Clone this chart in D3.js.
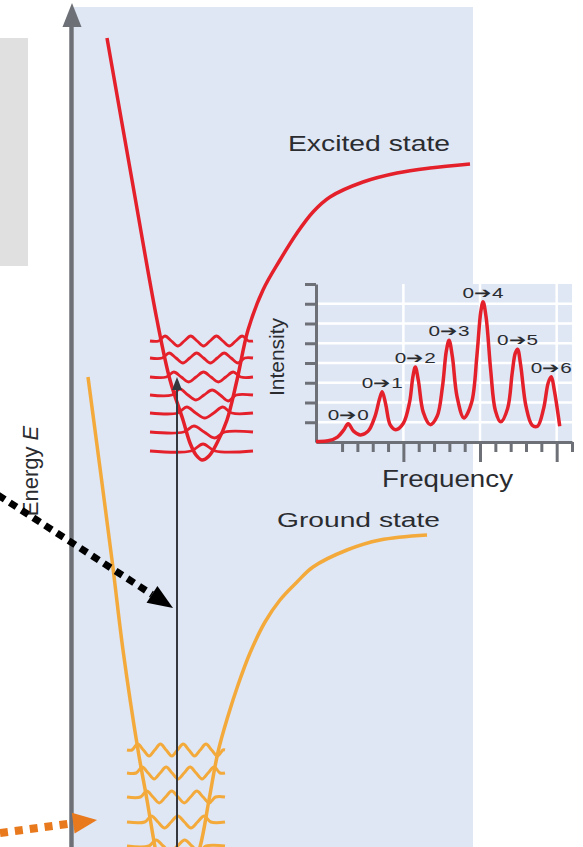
<!DOCTYPE html>
<html>
<head>
<meta charset="utf-8">
<script src="https://cdn.jsdelivr.net/npm/d3@7"></script>
<style>
  html, body { margin: 0; padding: 0; background: #fff; }
  svg { display: block; font-family: "Liberation Sans", Arial, sans-serif; }
</style>
</head>
<body>
<div id="chart"></div>
<script>
// potential energy curves: [internuclear distance r, energy E]
const excitedCurve = [
  [35, 809], [60, 667], [85, 527], [98, 467], [111, 427], [118, 404], [124, 392],
  [130, 387], [137, 391], [145, 404], [155, 427], [165, 467], [176, 517], [191, 557],
  [208, 587], [225, 614], [241, 635], [258, 650], [291, 665], [325, 674], [358, 679], [398, 683]
];
const groundCurve = [
  [16, 470], [40, 287], [51, 197], [66, 97], [75, 47], [83, 0], [90, -33], [103, -58],
  [116, -33], [128, 0], [137, 47], [146, 95], [156, 131], [166, 162], [178, 194],
  [193, 225], [208, 247], [225, 265], [241, 280], [275, 297], [308, 307], [355, 312]
];

// vibrational levels (energy) and lobe amplitudes of the drawn wavefunctions
const excitedLevels = [396, 415, 434, 452, 470, 489, 506];
const excitedLobes = [
  [7],
  [6, -6],
  [6, -5, 6],
  [6, -5, 5, -6],
  [5, -5, 5, -5, 5],
  [5, -5, 5, -5, 5, -5],
  [5, -5, 5, -5, 5, -5, 5]
];
const groundLevels = [1, 25, 50, 74, 97];
const groundLobes = [
  [6, -6, 6, -6],
  [6, -6, 6, -6, 6],
  [6, -6, 6, -6, 6, -6],
  [6, -6, 6, -6, 6, -6, 6],
  [6, -6, 6, -6, 6, -6, 6, -6]
];
const transitionTo = 470; // 0 -> 4

// absorption spectrum (inset): [frequency, intensity]
const spectrum = [
  [-1.7, 0.03], [-0.9, 0.06], [-0.3, 0.25], [0.1, 0.6], [0.4, 0.92], [0.75, 0.55],
  [1.2, 0.36], [1.7, 0.55], [2.15, 1.3], [2.45, 2.2], [2.62, 2.55], [2.85, 1.9],
  [3.15, 0.85], [3.5, 0.62], [4.0, 0.95], [4.4, 2.0], [4.62, 3.3], [4.78, 3.8],
  [4.98, 3.1], [5.3, 1.5], [5.75, 0.88], [6.2, 1.3], [6.55, 2.8], [6.8, 4.6],
  [6.98, 5.15], [7.2, 4.3], [7.5, 2.3], [7.95, 1.22], [8.45, 2.0], [8.8, 4.4],
  [9.05, 6.6], [9.2, 7.1], [9.4, 6.3], [9.7, 3.6], [10.0, 1.6], [10.35, 1.02],
  [10.8, 1.7], [11.1, 3.5], [11.3, 4.5], [11.45, 4.7], [11.65, 3.9], [12.0, 1.8],
  [12.4, 0.85], [12.75, 0.8], [13.15, 1.7], [13.45, 3.0], [13.65, 3.3], [13.85, 2.6],
  [14.2, 0.8]
];
const peakFreq = [0.4, 2.62, 4.78, 6.98, 9.2, 11.45, 13.65];
const peakIntensity = [0.92, 2.55, 3.8, 5.15, 7.1, 4.7, 3.3];
const peakLabels = ["0\u27940", "0\u27941", "0\u27942", "0\u27943", "0\u27944", "0\u27945", "0\u27946"];
const intensityTicks = [1, 2, 3, 4, 5, 6, 7, 8];
const freqTicks = d3.range(0, 16);
const freqMajor = [4, 9, 14];

const W = 583, H = 847;
const red = "#e4202b", orange = "#f3aa3b", grey = "#6d7177", ink = "#2a2c30";

const svg = d3.select("#chart").append("svg")
  .attr("width", W)
  .attr("height", H);

// main diagram scales
const x = d3.scaleLinear().domain([0, 401]).range([72, 473]);
const y = d3.scaleLinear().domain([0, 842]).range([847, 5]);

// inset scales
const f = d3.scaleLinear().domain([-1.7, 15]).range([316, 572]);
const iy = d3.scaleLinear().domain([0, 8]).range([442, 284]);

// grey box on the left and blue panel
svg.append("rect").attr("x", 0).attr("y", 38).attr("width", 28).attr("height", 228).attr("fill", "#e0e0e0");
svg.append("rect")
  .attr("x", x(2)).attr("y", y(840))
  .attr("width", x(401) - x(2)).attr("height", H - y(840))
  .attr("fill", "#dfe6f4");

// text is stretched sideways in the original, so fit widths with textLength
function label(g, px, py, str, size, width, anchor) {
  return g.append("text")
    .attr("x", px).attr("y", py)
    .attr("font-size", size)
    .attr("fill", ink)
    .attr("text-anchor", anchor || "start")
    .attr("textLength", width)
    .attr("lengthAdjust", "spacingAndGlyphs")
    .text(str);
}

// ---------- inset spectrum ----------
const inset = svg.append("g");
inset.append("rect")
  .attr("x", f.range()[0]).attr("y", iy(8))
  .attr("width", f.range()[1] - f.range()[0]).attr("height", iy(0) - iy(8))
  .attr("fill", "#dfe6f4");

inset.selectAll("line.hgrid").data(intensityTicks.slice(0, -1)).join("line")
  .attr("class", "hgrid")
  .attr("x1", f.range()[0]).attr("x2", f.range()[1])
  .attr("y1", d => iy(d)).attr("y2", d => iy(d))
  .attr("stroke", "#fff").attr("stroke-width", 2.5);
inset.selectAll("line.vgrid").data(freqMajor).join("line")
  .attr("class", "vgrid")
  .attr("x1", d => f(d)).attr("x2", d => f(d))
  .attr("y1", iy(8)).attr("y2", iy(0))
  .attr("stroke", "#fff").attr("stroke-width", 2.5);

const yAxis = d3.axisLeft(iy).tickValues(intensityTicks).tickSize(11).tickSizeOuter(0).tickFormat("");
const xAxis = d3.axisBottom(f).tickValues(freqTicks).tickSize(10).tickSizeOuter(0).tickFormat("");

const gy = inset.append("g").attr("transform", `translate(${f.range()[0]},0)`).call(yAxis);
const gx = inset.append("g").attr("transform", `translate(0,${iy(0)})`).call(xAxis);
gx.selectAll(".tick line").filter(d => freqMajor.includes(d)).attr("y2", 20);
[gx, gy].forEach(g => {
  g.select(".domain").attr("stroke", grey).attr("stroke-width", 3);
  g.selectAll(".tick line").attr("stroke", grey).attr("stroke-width", 3);
});

inset.append("path")
  .datum(spectrum)
  .attr("fill", "none")
  .attr("stroke", red)
  .attr("stroke-width", 3.5)
  .attr("stroke-linejoin", "round")
  .attr("d", d3.line().x(d => f(d[0])).y(d => iy(d[1])).curve(d3.curveCatmullRom.alpha(0.5)));

peakLabels.forEach((s, i) => {
  label(inset, f(peakFreq[i]) - 20.5, iy(peakIntensity[i]) - 4, s, 15, 41);
});

inset.append("text")
  .attr("transform", `translate(284,${(iy(0) + iy(8)) / 2 - 6}) rotate(-90)`)
  .attr("text-anchor", "middle")
  .attr("font-size", 21)
  .attr("fill", ink)
  .text("Intensity");
label(inset, 382, 487, "Frequency", 23, 131);

// ---------- potential curves and wavefunctions ----------
const line = d3.line().x(d => x(d[0])).y(d => y(d[1])).curve(d3.curveCatmullRom.alpha(0.5));

function crossing(pts, E) {
  for (let i = 0; i < pts.length - 1; i++) {
    const [r0, e0] = pts[i], [r1, e1] = pts[i + 1];
    if ((E - e0) * (E - e1) <= 0 && e0 !== e1) return r0 + (E - e0) / (e1 - e0) * (r1 - r0);
  }
  return pts[0][0];
}

// classical turning points of a level on both branches
function turningPoints(curve, E) {
  const iMin = d3.minIndex(curve, d => d[1]);
  return [crossing(curve.slice(0, iMin + 1), E), crossing(curve.slice(iMin), E)];
}

function wave(curve, E, lobes, r0, r1, pad) {
  let [tL, tR] = turningPoints(curve, E);
  tL = Math.max(r0 + 2, tL - pad);
  tR = Math.min(r1 - 2, tR + pad);
  const w = (tR - tL) / lobes.length;
  const pts = [[r0, E], [tL, E]];
  lobes.forEach((a, k) => {
    if (k > 0) pts.push([tL + k * w, E]);
    pts.push([tL + (k + 0.5) * w, E + a]);
  });
  pts.push([tR, E], [r1, E]);
  return pts;
}

svg.append("path").datum(groundCurve)
  .attr("fill", "none").attr("stroke", orange).attr("stroke-width", 3.5)
  .attr("d", line);
svg.append("path").datum(excitedCurve)
  .attr("fill", "none").attr("stroke", red).attr("stroke-width", 3.5)
  .attr("d", line);

svg.selectAll("path.gwave").data(groundLevels).join("path")
  .attr("class", "gwave")
  .attr("fill", "none").attr("stroke", orange).attr("stroke-width", 3)
  .attr("d", (E, i) => line(wave(groundCurve, E, groundLobes[i], 55, 153, 6)));
svg.selectAll("path.ewave").data(excitedLevels).join("path")
  .attr("class", "ewave")
  .attr("fill", "none").attr("stroke", red).attr("stroke-width", 2.8)
  .attr("d", (E, i) => line(wave(excitedCurve, E, excitedLobes[i], 78, 181, 3)));

// vertical transition arrow
svg.append("line")
  .attr("x1", x(105)).attr("x2", x(105))
  .attr("y1", H).attr("y2", y(transitionTo) + 8)
  .attr("stroke", "#34383e").attr("stroke-width", 2);
svg.append("path")
  .attr("d", `M${x(105)},${y(transitionTo)} l-5,13 l10,0 z`)
  .attr("fill", "#34383e");

// energy axis
svg.append("line")
  .attr("x1", 71.5).attr("x2", 71.5).attr("y1", H).attr("y2", 20)
  .attr("stroke", grey).attr("stroke-width", 4.5);
svg.append("path").attr("d", "M72,3 L81.5,27 L62.5,27 Z").attr("fill", grey);

svg.append("text")
  .attr("transform", "translate(38,471) rotate(-90)")
  .attr("text-anchor", "middle")
  .attr("font-size", 22)
  .attr("fill", ink)
  .html('Energy <tspan font-style="italic">E</tspan>');

label(svg, 288, 151, "Excited state", 22, 162);
label(svg, 277, 527, "Ground state", 20, 163);

// dotted pointer arrows
function dottedArrow(from, to, color, headLen, headHalf, dash, width) {
  const dx = to[0] - from[0], dy = to[1] - from[1];
  const len = Math.hypot(dx, dy), ux = dx / len, uy = dy / len;
  const bx = to[0] - ux * headLen, by = to[1] - uy * headLen;
  svg.append("line")
    .attr("x1", from[0]).attr("y1", from[1]).attr("x2", bx).attr("y2", by)
    .attr("stroke", color).attr("stroke-width", width).attr("stroke-dasharray", dash);
  svg.append("path")
    .attr("d", `M${to[0]},${to[1]} L${bx - uy * headHalf},${by + ux * headHalf} L${bx + uy * headHalf},${by - ux * headHalf} Z`)
    .attr("fill", color);
}
dottedArrow([x(-74), y(352)], [x(101), y(239)], "#000", 25, 10, "8,6", 7);
dottedArrow([x(-72), y(14)], [x(25), y(27)], "#e8791c", 24, 10.5, "8,7", 8);
</script>
</body>
</html>
